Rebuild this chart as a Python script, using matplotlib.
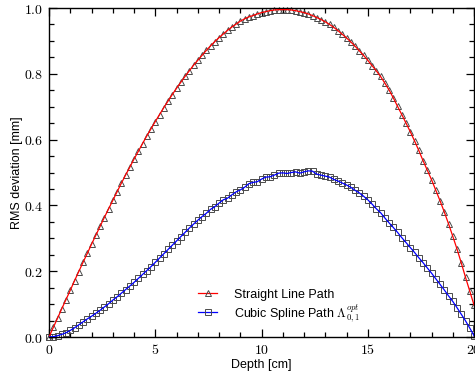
import matplotlib
matplotlib.use("Agg")
import matplotlib.pyplot as plt
from matplotlib.lines import Line2D
from matplotlib.ticker import MultipleLocator, FuncFormatter
import numpy as np

plt.rcParams['font.family'] = ['Liberation Sans', 'DejaVu Sans']
plt.rcParams['mathtext.fontset'] = 'cm'

# depth grid [cm]
depth = np.round(np.arange(0, 20.01, 0.2), 1)

# RMS deviation [mm], straight line path
rms_straight = [
    0.000, 0.029, 0.057, 0.086, 0.114, 0.142, 0.171, 0.199, 0.227, 0.254,
    0.282, 0.309, 0.336, 0.363, 0.389, 0.415, 0.441, 0.467, 0.492, 0.516,
    0.541, 0.564, 0.588, 0.611, 0.633, 0.655, 0.676, 0.697, 0.717, 0.737,
    0.756, 0.774, 0.792, 0.809, 0.826, 0.841, 0.856, 0.871, 0.885, 0.898,
    0.910, 0.921, 0.932, 0.942, 0.951, 0.960, 0.967, 0.973, 0.977, 0.982,
    0.986, 0.989, 0.992, 0.994, 0.995, 0.995, 0.995, 0.994, 0.992, 0.989,
    0.986, 0.982, 0.977, 0.971, 0.965, 0.958, 0.950, 0.941, 0.931, 0.920,
    0.909, 0.897, 0.884, 0.870, 0.856, 0.841, 0.825, 0.809, 0.792, 0.772,
    0.751, 0.727, 0.701, 0.676, 0.650, 0.624, 0.596, 0.567, 0.536, 0.507,
    0.478, 0.446, 0.414, 0.380, 0.344, 0.306, 0.267, 0.225, 0.181, 0.139,
    0.097]

# RMS deviation [mm], cubic spline path
rms_spline = [
    0.000, 0.001, 0.004, 0.008, 0.013, 0.020, 0.028, 0.037, 0.046, 0.055,
    0.063, 0.072, 0.081, 0.091, 0.101, 0.112, 0.122, 0.133, 0.144, 0.155,
    0.166, 0.178, 0.190, 0.202, 0.214, 0.227, 0.240, 0.253, 0.266, 0.279,
    0.292, 0.305, 0.318, 0.331, 0.343, 0.355, 0.366, 0.376, 0.388, 0.396,
    0.407, 0.417, 0.422, 0.432, 0.441, 0.447, 0.455, 0.466, 0.470, 0.472,
    0.480, 0.486, 0.487, 0.492, 0.498, 0.499, 0.497, 0.500, 0.502, 0.498,
    0.502, 0.505, 0.504, 0.495, 0.492, 0.489, 0.486, 0.479, 0.474, 0.468,
    0.462, 0.455, 0.446, 0.438, 0.428, 0.417, 0.404, 0.390, 0.378, 0.362,
    0.347, 0.333, 0.318, 0.302, 0.287, 0.272, 0.257, 0.241, 0.226, 0.210,
    0.194, 0.177, 0.160, 0.143, 0.125, 0.108, 0.089, 0.069, 0.049, 0.027,
    0.004]

labels = ['Straight Line Path', r'Cubic Spline Path $\Lambda^{opt}_{0,1}$']

mk_col = '#4a4a4a'

fig = plt.figure(figsize=(4.75, 3.76), dpi=100)
ax = fig.add_axes([0.1032, 0.1037, 0.8948, 0.875])

# markers first, lines over them
ax.plot(depth, rms_straight, ls='none', marker='^', ms=4, mfc='none',
        mec=mk_col, mew=0.7, clip_on=False, zorder=2)
ax.plot(depth, rms_spline, ls='none', marker='s', ms=4.8, mfc='none',
        mec=mk_col, mew=0.7, clip_on=False, zorder=2)
ax.plot(depth, rms_straight, color='red', lw=0.9, zorder=3)
ax.plot(depth, rms_spline, color='blue', lw=0.9, zorder=3)

ax.set_xlim(0, 20)
ax.set_ylim(0, 1)
ax.xaxis.set_major_locator(MultipleLocator(5))
ax.xaxis.set_minor_locator(MultipleLocator(1))
ax.yaxis.set_major_locator(MultipleLocator(0.2))
ax.yaxis.set_minor_locator(MultipleLocator(0.05))
ax.xaxis.set_major_formatter(FuncFormatter(lambda v, p: f'${v:g}$'))
ax.yaxis.set_major_formatter(FuncFormatter(lambda v, p: f'${v:.1f}$'))
ax.tick_params(which='both', direction='in', top=True, right=True,
               labelsize=10, width=0.9, color='black')
ax.tick_params(which='major', length=6, pad=4)
ax.tick_params(which='minor', length=3.3)
for s in ax.spines.values():
    s.set_linewidth(1.0)

ax.set_xlabel('Depth [cm]', fontsize=9, labelpad=2)
ax.set_ylabel('RMS deviation [mm]', fontsize=9, labelpad=1)

handles = [
    Line2D([], [], color='red', lw=0.9, marker='^', ms=4, mfc='none',
           mec=mk_col, mew=0.7),
    Line2D([], [], color='blue', lw=0.9, marker='s', ms=4.8, mfc='none',
           mec=mk_col, mew=0.7),
]
ax.legend(handles, labels, loc='center left', bbox_to_anchor=(0.351, 0.094),
          frameon=False, fontsize=9, handlelength=1.5, handletextpad=1.35,
          borderpad=0, borderaxespad=0, labelspacing=0.1)

fig.savefig('out.png', dpi=100)
